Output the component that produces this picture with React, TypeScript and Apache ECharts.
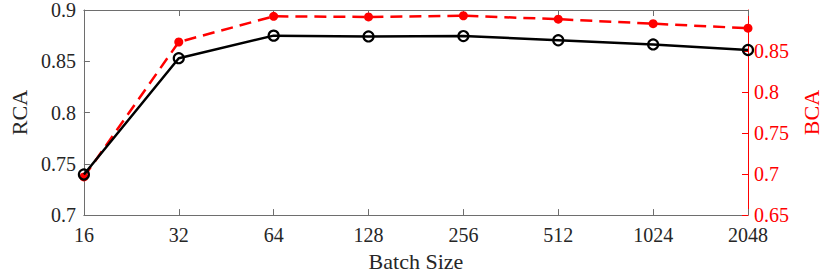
import React, { useEffect, useRef } from "react";
import * as echarts from "echarts";

const batchSizes = ["16", "32", "64", "128", "256", "512", "1024", "2048"];
const rcaValues = [0.7396, 0.853, 0.875, 0.8742, 0.8746, 0.8705, 0.8664, 0.861];
const bcaValues = [0.6965, 0.861, 0.8923, 0.8915, 0.893, 0.8888, 0.8833, 0.8778];
const rcaTicks = { min: 0.7, max: 0.9, interval: 0.05 };
const bcaTicks = { min: 0.65, max: 0.9, interval: 0.05 };

const FONT = "Liberation Serif";
const GRAY = "#6e6e6e";
const TXT = "#262626";
const TICK_FS = 20;
const NAME_FS = 22;

export default function App() {
  const ref = useRef<HTMLDivElement>(null);
  useEffect(() => {
    if (!ref.current) return;
    const chart = echarts.init(ref.current, undefined, { renderer: "svg" });
    chart.setOption({
      animation: false,
      textStyle: { fontFamily: FONT },
      grid: { left: 71, right: 72, top: 7, bottom: 57, containLabel: false },
      xAxis: [
        {
          type: "category",
          data: batchSizes,
          boundaryGap: false,
          name: "Batch Size",
          nameLocation: "middle",
          nameGap: 34,
          nameTextStyle: { fontFamily: FONT, fontSize: NAME_FS, color: TXT },
          axisLine: { lineStyle: { color: GRAY, width: 1 } },
          axisTick: { inside: true, length: 6, lineStyle: { color: GRAY } },
          axisLabel: { fontFamily: FONT, fontSize: TICK_FS, color: TXT, margin: 10 },
          splitLine: { show: false },
        },
        {
          type: "category",
          data: batchSizes,
          boundaryGap: false,
          position: "top",
          axisLine: { lineStyle: { color: GRAY, width: 1 } },
          axisTick: { inside: true, length: 6, lineStyle: { color: GRAY } },
          axisLabel: { show: false },
          splitLine: { show: false },
        },
      ],
      yAxis: [
        {
          type: "value",
          min: rcaTicks.min,
          max: rcaTicks.max,
          interval: rcaTicks.interval,
          position: "left",
          name: "RCA",
          nameLocation: "middle",
          nameGap: 48,
          nameTextStyle: { fontFamily: FONT, fontSize: NAME_FS, color: TXT },
          axisLine: { show: true, lineStyle: { color: GRAY, width: 1 } },
          axisTick: { show: true, inside: true, length: 6, lineStyle: { color: GRAY } },
          axisLabel: {
            fontFamily: FONT,
            fontSize: TICK_FS,
            color: TXT,
            margin: 8,
            formatter: (v: number) => String(parseFloat(v.toFixed(2))),
          },
          splitLine: { show: false },
        },
        {
          type: "value",
          min: bcaTicks.min,
          max: bcaTicks.max,
          interval: bcaTicks.interval,
          position: "right",
          name: "BCA",
          nameLocation: "middle",
          nameGap: 52,
          nameTextStyle: { fontFamily: FONT, fontSize: NAME_FS, color: "#ff0000" },
          axisLine: { show: true, lineStyle: { color: "#ff0000", width: 1 } },
          axisTick: { show: true, inside: true, length: 6, lineStyle: { color: "#ff0000" } },
          axisLabel: {
            fontFamily: FONT,
            fontSize: TICK_FS,
            color: "#ff0000",
            margin: 6,
            showMaxLabel: false,
            formatter: (v: number) => (v >= 0.899 ? "" : String(parseFloat(v.toFixed(2)))),
          },
          splitLine: { show: false },
        },
      ],
      series: [
        {
          name: "BCA",
          type: "line",
          yAxisIndex: 1,
          data: bcaValues,
          symbol: "circle",
          symbolSize: 9,
          itemStyle: { color: "#ff0000" },
          lineStyle: { color: "#ff0000", width: 2.5, type: [12, 7] },
          z: 2,
        },
        {
          name: "RCA",
          type: "line",
          yAxisIndex: 0,
          data: rcaValues,
          symbol: "circle",
          symbolSize: 10,
          itemStyle: { color: "rgba(255,255,255,0)", borderColor: "#000", borderWidth: 2.2 },
          lineStyle: { color: "#000", width: 2.5 },
          z: 3,
        },
      ],
    });
    return () => chart.dispose();
  }, []);
  return <div ref={ref} style={{ width: 830, height: 277, position: "absolute", left: 0, top: 0 }} />;
}
